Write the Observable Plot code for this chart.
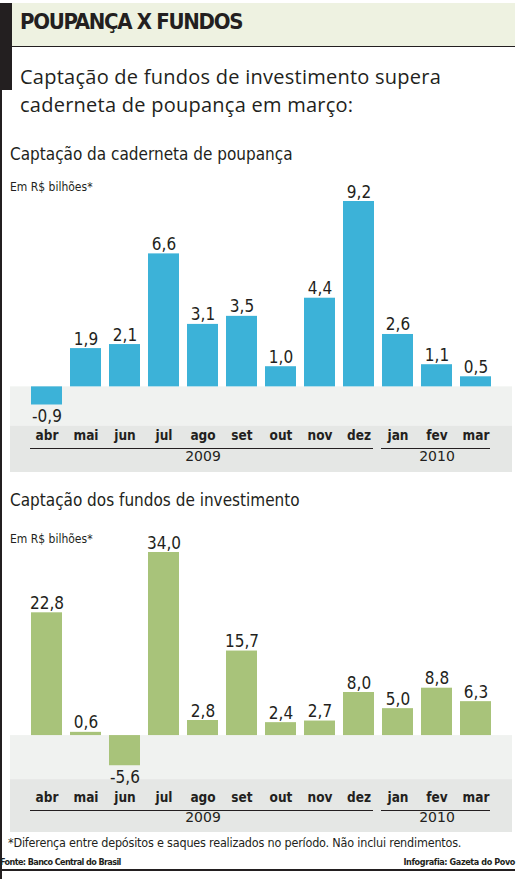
<!DOCTYPE html>
<html><head><meta charset="utf-8">
<script src="https://cdn.jsdelivr.net/npm/d3@7"></script>
<script src="https://cdn.jsdelivr.net/npm/@observablehq/plot@0.6"></script>
<style>
html,body{margin:0;padding:0;background:#fff;}
#page{position:relative;width:530px;height:879px;overflow:hidden;background:#fff;color:#231f20;}
.abs{position:absolute;white-space:nowrap;}
#leftline{left:0;top:90px;width:2px;height:789px;background:#231f20;}
#blackbar{left:0;top:3px;width:12px;height:87px;background:#231f20;}
#titlebar{left:12px;top:3px;width:503px;height:43px;background:#eef2e1;border-bottom:1.5px solid #231f20;}
#title{left:20px;top:9px;font:bold 22px "DejaVu Sans Condensed","DejaVu Sans",sans-serif;letter-spacing:-1.3px;}
#subtitle{left:20px;top:63px;font:20px "Open Sans",sans-serif;line-height:28px;letter-spacing:0.25px;}
.sec{left:10px;font:17px "DejaVu Sans Condensed",sans-serif;letter-spacing:0px;}
.unit{left:10px;font:12px "DejaVu Sans Condensed",sans-serif;z-index:2;}
.chart{left:0;}
#foot{left:8px;top:835px;font:12.5px "DejaVu Sans Condensed",sans-serif;letter-spacing:-0.2px;}
#fonte{left:0;top:857px;font:bold 9px "DejaVu Sans Condensed",sans-serif;letter-spacing:-0.6px;}
#infog{right:15px;top:857px;font:bold 9px "DejaVu Sans Condensed",sans-serif;letter-spacing:-0.4px;}
#bottomline{left:0;top:869px;width:515px;height:2px;background:#231f20;}
</style>
</head><body>
<div id="page">
  <div class="abs" id="leftline"></div>
  <div class="abs" id="titlebar"></div>
  <div class="abs" id="blackbar"></div>
  <div class="abs" id="title">POUPANÇA X FUNDOS</div>
  <div class="abs" id="subtitle">Captação de fundos de investimento supera<br>caderneta de poupança em março:</div>
  <div class="abs sec" style="top:144px">Captação da caderneta de poupança</div>
  <div class="abs unit" style="top:180px">Em R$ bilhões*</div>
  <div class="abs chart" id="c1" style="top:172px"></div>
  <div class="abs sec" style="top:490px">Captação dos fundos de investimento</div>
  <div class="abs unit" style="top:532px">Em R$ bilhões*</div>
  <div class="abs chart" id="c2" style="top:520px"></div>
  <div class="abs" id="foot">*Diferença entre depósitos e saques realizados no período. Não inclui rendimentos.</div>
  <div class="abs" id="fonte">Fonte: Banco Central do Brasil</div>
  <div class="abs" id="infog">Infografia: Gazeta do Povo</div>
  <div class="abs" id="bottomline"></div>
</div>
<script>
const months = ["abr","mai","jun","jul","ago","set","out","nov","dez","jan","fev","mar"];
const poupanca = [-0.9, 1.9, 2.1, 6.6, 3.1, 3.5, 1.0, 4.4, 9.2, 2.6, 1.1, 0.5];
const fundos = [22.8, 0.6, -5.6, 34.0, 2.8, 15.7, 2.4, 2.7, 8.0, 5.0, 8.8, 6.3];
const years = [
  {year: "2009", first: "abr", last: "dez", center: "ago"},
  {year: "2010", first: "jan", last: "mar", center: "fev"}
];
const fmt = v => v.toFixed(1).replace(".", ",");

function chart(values, color, opts) {
  const data = months.map((m, i) => ({month: m, value: values[i]}));
  const yMin = opts.yMin;
  const condensed = '"DejaVu Sans Condensed", sans-serif';
  return Plot.plot({
    width: 530,
    height: opts.height,
    marginLeft: 10,
    marginRight: 18,
    marginTop: opts.marginTop,
    marginBottom: 0,
    style: {fontFamily: condensed, color: "#231f20", background: "transparent"},
    x: {domain: months, range: [26, 496], paddingInner: 0.21, paddingOuter: 0.105, axis: null},
    y: {domain: [yMin, opts.yMax], axis: null},
    marks: [
      Plot.rect([0], {y1: 0, y2: yMin, fill: "#f0f2f0"}),
      Plot.rect([0], {y1: opts.bandTop, y2: yMin, fill: "#e5e7e5"}),
      Plot.barY(data, {x: "month", y: "value", fill: color}),
      Plot.text(data.filter(d => d.value >= 0), {x: "month", y: "value", text: d => fmt(d.value), lineAnchor: "bottom", dy: -4, fontSize: 17, letterSpacing: -1, fontWeight: 500, fill: "#231f20"}),
      Plot.text(data.filter(d => d.value < 0), {x: "month", y: "value", text: d => fmt(d.value), lineAnchor: "top", dy: 5, fontSize: 17, letterSpacing: -1, fontWeight: 500, fill: "#231f20"}),
      Plot.text(months, {x: d => d, frameAnchor: "bottom", dy: opts.monthDy, fontSize: 13.5, letterSpacing: -0.5, fontWeight: "bold", fill: "#231f20"}),
      Plot.ruleY(years, {x1: "first", x2: "last", y: () => yMin, dy: opts.ruleDy, stroke: "#231f20", strokeWidth: 1, insetLeft: -1, insetRight: 1}),
      Plot.text(years, {x: "center", text: "year", frameAnchor: "bottom", dy: opts.yearDy, fontSize: 14, fontFamily: '"DejaVu Sans", sans-serif', letterSpacing: 1, fill: "#231f20"})
    ]
  });
}

document.getElementById("c1").append(chart(poupanca, "#3cb2d8", {
  height: 300, marginTop: 29, yMin: -4.25, yMax: 9.2, bandTop: -1.96,
  monthDy: -33, ruleDy: -24, yearDy: -12
}));
document.getElementById("c2").append(chart(fundos, "#a8c37a", {
  height: 312, marginTop: 32, yMin: -18, yMax: 34, bandTop: -8.2,
  monthDy: -31, ruleDy: -22, yearDy: -11
}));
</script>
</body></html>
